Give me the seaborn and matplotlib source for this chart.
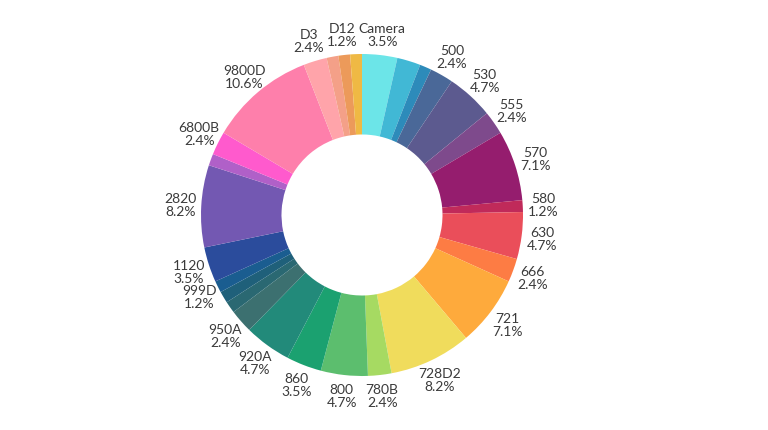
import numpy as np
import matplotlib
matplotlib.use("Agg")
import matplotlib.pyplot as plt
import seaborn as sns

# slices clockwise from 12 o'clock, counts (total 85)
models = ["Camera", "510", "520", "500", "530", "555", "570", "580", "630", "666",
          "721", "728D2", "780B", "800", "860", "920A", "950A", "960", "990", "999D",
          "1120", "2820", "5800", "6800B", "9800D", "D3", "D5", "D12", "D40"]
counts = [3, 2, 1, 2, 4, 2, 6, 1, 4, 2,
          6, 7, 2, 4, 3, 4, 2, 1, 1, 1,
          3, 7, 1, 2, 9, 2, 1, 1, 1]
# labels hidden in the reference (overlap)
hidden = ["510", "520", "960", "990", "5800", "D5", "D40"]
colors = ["#6ce5e8", "#41b8d5", "#2d8bba", "#4a6898", "#5c5a8f", "#7e4a8c", "#951d6e",
          "#c02a5a", "#ea4e5a", "#fd7c44", "#feaa3c", "#f0dc5c", "#a6da62", "#5cbe6e",
          "#1ba170", "#228a7a", "#3c7070", "#2a6872", "#1f607a", "#1a5d90", "#2b4c9c",
          "#7358b2", "#b060c8", "#ff5acd", "#fe7fab", "#ffa4aa", "#f4a088", "#ec9a5a",
          "#efb944"]

sns.set_theme(style="white")
plt.rcParams["font.family"] = ["Lato", "DejaVu Sans"]

fig = plt.figure(figsize=(7.68, 4.31), dpi=100)
cx, cy, r = 362, 216, 161
ax = fig.add_axes([(cx - r) / 768, (431 - cy - r) / 431, 2 * r / 768, 2 * r / 431])

wedges, _ = ax.pie(counts, colors=sns.color_palette(colors), startangle=90,
                   counterclock=False, radius=1,
                   wedgeprops=dict(width=0.5, linewidth=0))
ax.set_xlim(-1, 1)
ax.set_ylim(-1, 1)
ax.set_aspect("equal")
ax.axis("off")

total = sum(counts)
for w, name, c in zip(wedges, models, counts):
    if name in hidden:
        continue
    ang = np.deg2rad((w.theta1 + w.theta2) / 2)
    x, y = 1.13 * np.cos(ang), 1.13 * np.sin(ang)
    ax.text(x, y, f"{name}\n{100 * c / total:.1f}%", ha="center", va="center",
            fontsize=10, color="#3a3a3a", linespacing=1.1)

fig.savefig("out.png", dpi=100)
